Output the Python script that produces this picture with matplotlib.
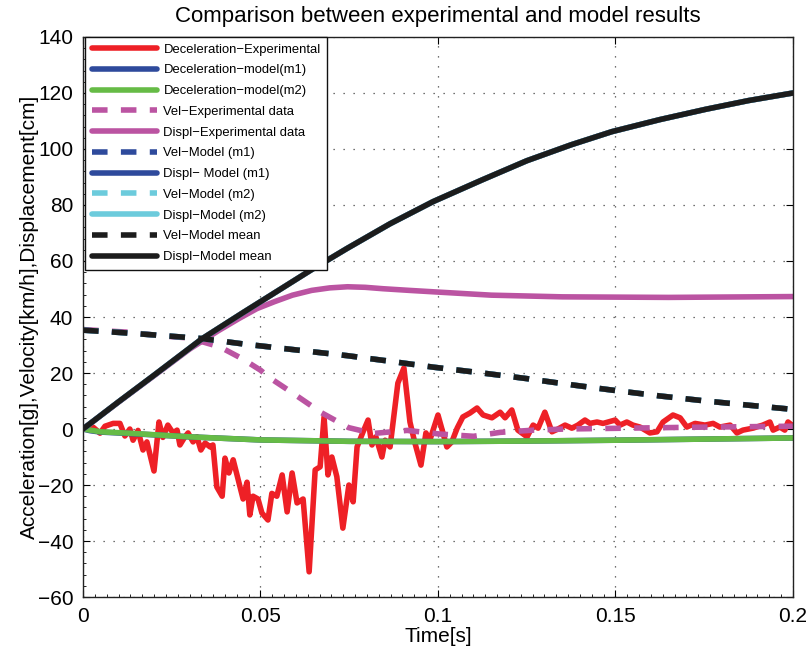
import matplotlib
matplotlib.use("Agg")
import matplotlib.pyplot as plt
from matplotlib.ticker import MultipleLocator

plt.rcParams['font.family'] = ['Liberation Sans', 'DejaVu Sans']

# ---------------- data ----------------
t_acc = [0, 0.0028, 0.0048, 0.0062, 0.0085, 0.0104, 0.0118, 0.0132, 0.0141, 0.0155,
         0.0169, 0.0180, 0.0200, 0.0214, 0.0225, 0.0239, 0.0254, 0.0265, 0.0273, 0.0287,
         0.0296, 0.0310, 0.0321, 0.0332, 0.0344, 0.0358, 0.0366, 0.0377, 0.0392, 0.0400,
         0.0411, 0.0423, 0.0439, 0.0451, 0.0462, 0.0470, 0.0479, 0.0493, 0.0504, 0.0521,
         0.0532, 0.0546, 0.0561, 0.0575, 0.0589, 0.0603, 0.0620, 0.0637, 0.0654, 0.0668,
         0.0679, 0.0690, 0.0701, 0.0715, 0.0732, 0.0749, 0.0761, 0.0772, 0.0789, 0.0803,
         0.0814, 0.0825, 0.0842, 0.0851, 0.0865, 0.0887, 0.0904, 0.0921, 0.0935, 0.0952,
         0.0966, 0.0977, 0.1000, 0.1025, 0.1039, 0.1054, 0.1070, 0.1090, 0.1110, 0.1127,
         0.1152, 0.1175, 0.1189, 0.1208, 0.1225, 0.1251, 0.1268, 0.1282, 0.1301, 0.1321,
         0.1338, 0.1358, 0.1377, 0.1394, 0.1414, 0.1428, 0.1448, 0.1465, 0.1499, 0.1513,
         0.1532, 0.1549, 0.1569, 0.1597, 0.1617, 0.1634, 0.1662, 0.1682, 0.1701, 0.1724,
         0.1752, 0.1775, 0.1794, 0.1823, 0.1842, 0.1859, 0.1887, 0.1915, 0.1935, 0.1944,
         0.1963, 0.1977, 0.1986, 0.1997]
acc_exp = [0, 0.7, -1.5, 1, 2, 2, -2.5, 0, -4, -0.5,
           -7.5, -4.6, -15, 2.5, -3, 1.4, -1.5, -0.4, -5.7, -2.8,
           -1.4, -4.6, -2.8, -7.5, -5, -6.4, -5.7, -20.7, -24, -10.4,
           -15.7, -11, -19, -25, -19, -30.7, -24, -25, -30, -32.5,
           -23, -24, -16.4, -29.6, -15.7, -26.4, -25, -51, -14.6, -13.5,
           4.3, -16.4, -10, -17, -35.4, -20, -26, -6.4, -1, 3.2,
           -5.7, -2.8, -10, -4, -6.4, 16.4, 21.8, 2.5, -5, -12.9,
           -1.4, -4, 5, -6.4, -4.6, 0.3, 4.3, 5.7, 7.5, 5,
           4, 6, 4, 6.8, -0.4, -2.8, 1.4, 0.3, 6, -1,
           0, 1.4, 0.3, 1.4, 3.2, 2, 2.5, 2, 3.2, 1.4,
           2.5, 1.4, 0.7, -1.4, -1, 2.5, 5, 4, 0.7, 2,
           1.4, 2, 0.7, 1.4, -1.4, -0.4, 0.3, 1.4, 2.5, -0.4,
           0.7, -0.4, 2.5, 1.4]

t_model_acc = [0, 0.002, 0.005, 0.013, 0.03, 0.05, 0.075, 0.1, 0.125, 0.15, 0.175, 0.2]
acc_m1 = [0, -0.6, -1.1, -1.6, -2.8, -3.9, -4.4, -4.5, -4.3, -4.0, -3.6, -3.2]
acc_m2 = [0, -0.4, -1.0, -1.5, -2.8, -3.9, -4.4, -4.5, -4.3, -4.0, -3.6, -3.2]

t_vel_exp = [0, 0.0124, 0.0217, 0.030, 0.0386, 0.045, 0.050, 0.0527, 0.059, 0.0672,
             0.0748, 0.0817, 0.0913, 0.1006, 0.110, 0.1175, 0.127, 0.136, 0.153, 0.170,
             0.185, 0.200]
vel_exp = [35.5, 34.6, 33.3, 32.5, 29.3, 25, 21, 18.2, 12.9, 5.8,
           0.5, -1.6, -0.5, -1.8, -2.6, -1.2, -0.4, 0, 0.3, 0.6,
           0.8, 1.0]

t_disp_exp = [0, 0.01, 0.02, 0.03, 0.038, 0.044, 0.049, 0.054, 0.059, 0.0644,
              0.0695, 0.0745, 0.0795, 0.0845, 0.092, 0.10, 0.115, 0.135, 0.165, 0.20]
disp_exp = [0, 9.6, 19, 28.5, 35, 39.5, 43, 45.5, 47.8, 49.5,
            50.4, 50.8, 50.6, 50.1, 49.5, 48.9, 47.8, 47.2, 47.0, 47.3]

t_model = [0, 0.01, 0.02, 0.0335, 0.045, 0.0645, 0.0744, 0.0865, 0.0986, 0.1125,
           0.125, 0.1375, 0.149, 0.1625, 0.1755, 0.1875, 0.2]
vel_mean = [35.3, 34.5, 33.6, 32.3, 30.4, 27.6, 26.2, 24.2, 22.1, 20.0,
            18.0, 15.8, 13.9, 11.8, 10.0, 8.5, 7.0]
disp_mean = [0, 9.7, 19.2, 32.2, 41.5, 57, 64.5, 73.3, 81.2, 89,
             95.8, 101.5, 106.2, 110.5, 114.2, 117.3, 120]
vel_m1 = vel_mean
disp_m1 = disp_mean
vel_m2 = vel_mean
disp_m2 = disp_mean

labels = ['Deceleration\u2212Experimental', 'Deceleration\u2212model(m1)',
          'Deceleration\u2212model(m2)', 'Vel\u2212Experimental data',
          'Displ\u2212Experimental data', 'Vel\u2212Model (m1)', 'Displ\u2212 Model (m1)',
          'Vel\u2212Model (m2)', 'Displ\u2212Model (m2)', 'Vel\u2212Model mean',
          'Displ\u2212Model mean']

# ---------------- style ----------------
c_red = '#ee2026'
c_blue = '#2e4a9c'
c_green = '#66bb46'
c_mag = '#bb54a2'
c_cyan = '#6ccbdc'
c_black = '#1c1c1c'
lw = 4.0
dash = (0, (2.8, 2.4))

fig = plt.figure(figsize=(8.09, 6.57), dpi=100)
ax = fig.add_axes([0.1026, 0.0913, 0.8776, 0.8524])

common = dict(lw=lw, solid_joinstyle='round', solid_capstyle='round', dash_capstyle='butt')
ax.plot(t_acc, acc_exp, color=c_red, label=labels[0], **common)
ax.plot(t_model_acc, acc_m1, color=c_blue, label=labels[1], **common)
ax.plot(t_model_acc, acc_m2, color=c_green, label=labels[2], **common)
ax.plot(t_vel_exp, vel_exp, color=c_mag, ls=dash, label=labels[3], **common)
ax.plot(t_disp_exp, disp_exp, color=c_mag, label=labels[4], **common)
ax.plot(t_model, vel_m1, color=c_blue, ls=dash, label=labels[5], **common)
ax.plot(t_model, disp_m1, color=c_blue, label=labels[6], **common)
ax.plot(t_model, vel_m2, color=c_cyan, ls=dash, label=labels[7], **common)
ax.plot(t_model, disp_m2, color=c_cyan, label=labels[8], **common)
ax.plot(t_model, vel_mean, color=c_black, ls=dash, label=labels[9], **common)
ax.plot(t_model, disp_mean, color=c_black, label=labels[10], **common)

ax.set_xlim(0, 0.2)
ax.set_ylim(-60, 140)
ax.set_xticks([0, 0.05, 0.1, 0.15, 0.2])
ax.set_xticklabels(['0', '0.05', '0.1', '0.15', '0.2'])
ax.set_yticks(range(-60, 141, 20))
ax.xaxis.set_minor_locator(MultipleLocator(0.05 / 15))
ax.yaxis.set_minor_locator(MultipleLocator(4))
ax.tick_params(which='major', direction='in', length=5, width=0.8, labelsize=15,
               top=True, right=True, pad=7)
ax.tick_params(which='minor', direction='in', length=2, width=0.6,
               top=False, right=False)
ax.grid(True, which='major', color='#444444', lw=0.9, ls=(0, (1, 7)))
for s in ax.spines.values():
    s.set_linewidth(1.0)
    s.set_color('#222222')

ax.set_title('Comparison between experimental and model results', fontsize=16, pad=11)
ax.set_xlabel('Time[s]', fontsize=15, labelpad=1)
ax.set_ylabel('Acceleration[g],Velocity[km/h],Displacement[cm]', fontsize=15, labelpad=-1)

leg = ax.legend(loc='upper left', bbox_to_anchor=(0.003, 1.0), borderaxespad=0,
                fontsize=9.4, handlelength=5.0, handletextpad=0.5,
                labelspacing=0.66, borderpad=0.5, fancybox=False, framealpha=1)
leg.get_frame().set_edgecolor('#111111')
leg.get_frame().set_linewidth(1.0)

fig.savefig('out.png', dpi=100)
